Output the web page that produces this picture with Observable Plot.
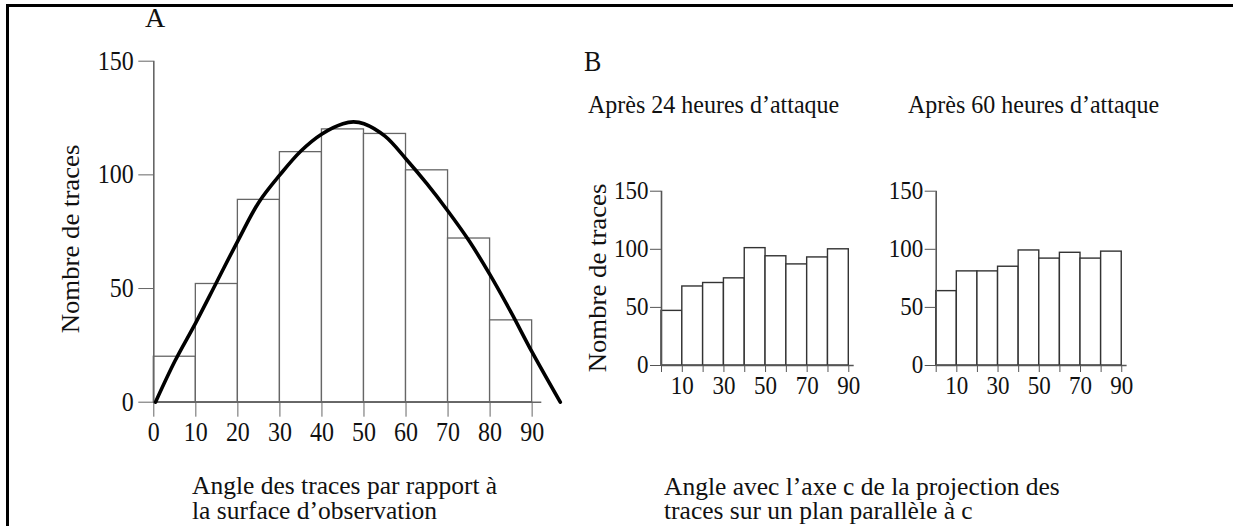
<!DOCTYPE html>
<html><head><meta charset="utf-8">
<script src="https://cdn.jsdelivr.net/npm/d3@7"></script>
<script src="https://cdn.jsdelivr.net/npm/@observablehq/plot@0.6"></script>
<style>
html,body{margin:0;padding:0;background:#fff;overflow:hidden;}
#wrap{position:relative;width:1233px;height:526px;overflow:hidden;background:#fff;font-family:"Liberation Serif","Times New Roman",serif;color:#111;}
.plot{position:absolute;}
.t{position:absolute;white-space:nowrap;line-height:0.9;}
.cap{position:absolute;white-space:pre;}
.frame{position:absolute;left:6px;top:4px;width:1400px;height:700px;border-top:3px solid #000;border-left:3px solid #000;}
</style></head><body>
<div id="wrap"><div class="frame"></div></div>
<script>
// ---- data ----
const binStarts = [0, 10, 20, 30, 40, 50, 60, 70, 80];
const binWidth = 10;
const countsA = [20, 52, 89, 110, 120, 118, 102, 72, 36];
const counts24h = [47, 68, 71, 75, 101, 94, 87, 93, 100];
const counts60h = [64, 81, 81, 85, 99, 92, 97, 92, 98];
const curveAngle = [0.4, 5, 10, 15, 20, 25, 30, 35, 40, 45, 47.5, 50, 55, 60, 65, 70, 75, 80, 85, 90, 96.7];
const curveCount = [0, 18, 35, 53, 71, 88, 100, 110.5, 118, 122.5, 123.3, 122.5, 117, 107, 96, 84, 71, 56, 39.5, 22, 0];
const xTicksA = [0, 10, 20, 30, 40, 50, 60, 70, 80, 90];
const xTicksB = [0, 10, 20, 30, 40, 50, 60, 70, 80, 90];
const xLabelsB = [10, 30, 50, 70, 90];
const yTicks = [0, 50, 100, 150];
const xAxisEndA = 92.3;
const xAxisEndB = 92.6;
const yMax = 150;

const titleA = "A", titleB = "B";
const sub24 = "Après 24 heures d’attaque";
const sub60 = "Après 60 heures d’attaque";
const yLabel = "Nombre de traces";
const captionA = ["Angle des traces par rapport à", "la surface d’observation"];
const captionB = ["Angle avec l’axe c de la projection des", "traces sur un plan parallèle à c"];

// ---- build ----
const wrap = document.getElementById("wrap");
const font = '"Liberation Serif","Times New Roman",serif';
const bins = counts => binStarts.map((x0, i) => ({x0, x1: x0 + binWidth, count: counts[i]}));
const curveData = curveAngle.map((a, i) => ({a, c: curveCount[i]}));

function place(el, left, top) {
  el.classList.add("plot");
  el.style.left = left + "px";
  el.style.top = top + "px";
  wrap.appendChild(el);
}
// stretch tick labels vertically around their own centre (the reference type is slightly tall)
function stretch(svg, k) {
  svg.querySelectorAll('g[aria-label$="tick label"] text').forEach(t => {
    const b = t.getBBox();
    const cx = b.x + b.width / 2, cy = b.y + b.height / 2;
    const prev = t.getAttribute("transform") || "";
    t.setAttribute("transform", `${prev} translate(${cx},${cy}) scale(1,${k}) translate(${-cx},${-cy})`);
  });
}

// Panel A
const plotA = Plot.plot({
  width: 600, height: 460,
  marginLeft: 153.3, marginRight: 58.7, marginTop: 60.7, marginBottom: 58.3,
  x: {domain: [0, xAxisEndA]},
  y: {domain: [0, yMax]},
  style: {fontFamily: font, fontSize: "24px", color: "#111", background: "transparent", overflow: "visible"},
  marks: [
    Plot.rect(bins(countsA), {x1: "x0", x2: "x1", y1: 0, y2: "count", fill: "white", stroke: "#666", strokeWidth: 1.3}),
    Plot.ruleY([0], {stroke: "#666", strokeWidth: 1.6}),
    Plot.ruleX([0], {stroke: "#666", strokeWidth: 1.6}),
    Plot.axisX({ticks: xTicksA, tickSize: 15, tickPadding: 6, fontSize: 24, stroke: "#666", label: null, tickFormat: d => String(d)}),
    Plot.axisY({ticks: yTicks, tickSize: 15, tickPadding: 5, fontSize: 24, stroke: "#666", label: null, tickFormat: d => String(d)}),
    Plot.line(curveData, {x: "a", y: "c", curve: "catmull-rom", stroke: "#000", strokeWidth: 3.6})
  ]
});
place(plotA, 0, 0);
stretch(plotA, 1.1);

// Panels B
function panelB(counts, marginLeft, marginRight) {
  return Plot.plot({
    width: 320, height: 260,
    marginLeft, marginRight, marginTop: 40.7, marginBottom: 45,
    x: {domain: [0, xAxisEndB]},
    y: {domain: [0, yMax]},
    style: {fontFamily: font, fontSize: "23px", color: "#111", background: "transparent", overflow: "visible"},
    marks: [
      Plot.rect(bins(counts), {x1: "x0", x2: "x1", y1: 0, y2: "count", fill: "white", stroke: "#333", strokeWidth: 1.4}),
      Plot.ruleY([0], {stroke: "#555", strokeWidth: 1.6}),
      Plot.ruleX([0], {stroke: "#555", strokeWidth: 1.6}),
      Plot.axisX({ticks: xTicksB, tickSize: 7, tickPadding: 5, fontSize: 23, stroke: "#555", label: null,
        tickFormat: d => xLabelsB.includes(d) ? String(d) : ""}),
      Plot.axisY({ticks: yTicks, tickSize: 11, tickPadding: 2, fontSize: 23, stroke: "#555", label: null, tickFormat: d => String(d)})
    ]
  });
}
const plotB1 = panelB(counts24h, 101, 26.3);
place(plotB1, 560, 150);
stretch(plotB1, 1.06);
const plotB2 = panelB(counts60h, 95.7, 33.4);
place(plotB2, 840, 150);
stretch(plotB2, 1.06);

// Text
function text(str, {left, cy, size, rotate = 0, cx, k = 1.08}) {
  const d = document.createElement("div");
  d.className = "t";
  d.textContent = str;
  d.style.fontSize = size + "px";
  if (rotate) {
    d.style.left = cx + "px";
    d.style.top = cy + "px";
    d.style.transform = `translate(-50%,-50%) scaleY(${k}) rotate(${rotate}deg)`;
  } else {
    d.style.left = left + "px";
    d.style.top = cy + "px";
    d.style.transform = `translateY(-50%) scaleY(${k})`;
  }
  wrap.appendChild(d);
}
function caption(lines, {left, cy, size, lh}) {
  const d = document.createElement("div");
  d.className = "cap";
  d.textContent = lines.join("\n");
  d.style.fontSize = size + "px";
  d.style.lineHeight = lh + "px";
  d.style.left = left + "px";
  d.style.top = (cy - lh / 2) + "px";
  wrap.appendChild(d);
}
text(titleA, {left: 145, cy: 18, size: 28, k: 1.0});
text(titleB, {left: 584, cy: 62, size: 26, k: 1.1});
text(sub24, {left: 588, cy: 105, size: 24});
text(sub60, {left: 908, cy: 105, size: 24});
text(yLabel, {cx: 70.5, cy: 239, size: 25, rotate: -90, k: 1.07});
text(yLabel, {cx: 598, cy: 277.5, size: 25, rotate: -90, k: 1.07});
caption(captionA, {left: 192, cy: 485, size: 25.5, lh: 25});
caption(captionB, {left: 664, cy: 487, size: 25.5, lh: 24});
</script>
</body></html>
